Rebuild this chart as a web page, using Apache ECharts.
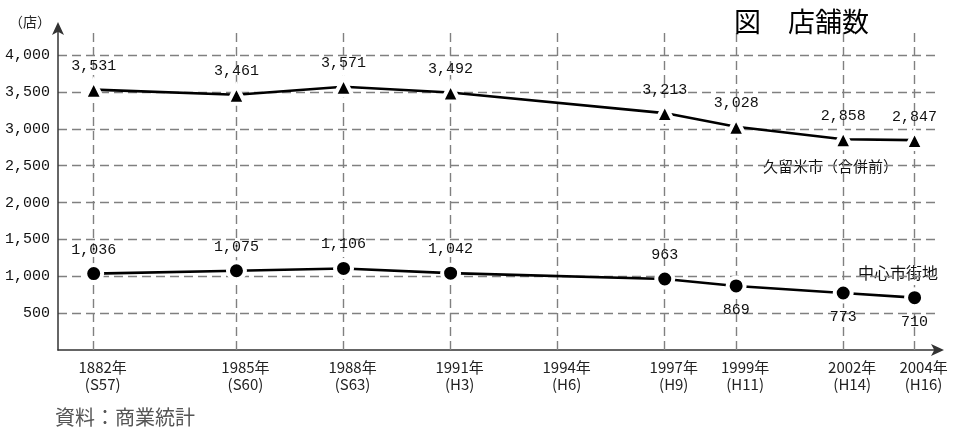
<!DOCTYPE html>
<html>
<head>
<meta charset="utf-8">
<script src="https://cdn.jsdelivr.net/npm/echarts@6/dist/echarts.min.js"></script>
<style>
  html, body { margin: 0; padding: 0; background: #fff; }
  #chart { width: 957px; height: 430px; }
</style>
</head>
<body>
<div id="chart"></div>
<script>
// Survey years on the time scale (the axis leaves an extra year before the first survey)
const years = [1981, 1985, 1988, 1991, 1994, 1997, 1999, 2002, 2004];
const yearLabels = ['1882年', '1985年', '1988年', '1991年', '1994年', '1997年', '1999年', '2002年', '2004年'];
const eraLabels = ['(S57)', '(S60)', '(S63)', '(H3)', '(H6)', '(H9)', '(H11)', '(H14)', '(H16)'];

// Number of shops
const kurumeShops = [3531, 3461, 3571, 3492, null, 3213, 3028, 2858, 2847];
const centralShops = [1036, 1075, 1106, 1042, null, 963, 869, 773, 710];

// Which way each value label sits for the central-district line
const centralLabelPos = ['top', 'top', 'top', 'top', 'top', 'top', 'bottom', 'bottom', 'bottom'];

const yTicks = { min: 0, max: 4340, interval: 500 };

const numFont = '"Liberation Mono", "DejaVu Sans Mono", monospace';
const jpFont = '"Noto Sans CJK JP", "Noto Sans", sans-serif';
const gridDash = { color: '#808080', width: 1.4, type: [9, 5] };

const fmt = v => String(v).replace(/\B(?=(\d{3})+(?!\d))/g, ',');

const chart = echarts.init(document.getElementById('chart'));

const numLabel = {
  show: true,
  fontFamily: numFont,
  fontSize: 15,
  color: '#111',
  formatter: p => fmt(p.value[1])
};

chart.setOption({
  animation: false,
  backgroundColor: '#fff',
  title: [
    { text: '図　店舗数', left: 729, top: 3,
      textStyle: { fontFamily: jpFont, fontSize: 27, fontWeight: 'normal', color: '#000' } },
    { text: '（店）', left: 4, top: 10,
      textStyle: { fontFamily: jpFont, fontSize: 14, fontWeight: 'normal', color: '#222' } },
    { text: '資料：商業統計', left: 50, top: 402,
      textStyle: { fontFamily: jpFont, fontSize: 20, fontWeight: 'normal', color: '#555' } }
  ],
  graphic: [
    { type: 'text', left: 763, top: 159,
      style: { text: '久留米市（合併前）', font: '15px ' + jpFont, fill: '#111' } },
    { type: 'text', left: 858, top: 265,
      style: { text: '中心市街地', font: '16px ' + jpFont, fill: '#111' } }
  ],
  grid: { left: 58, right: 21, top: 30, bottom: 80 },
  xAxis: {
    type: 'value',
    min: 1980,
    max: 2004.6,
    axisLine: { show: true, lineStyle: { color: '#333', width: 1.5 },
      symbol: ['none', 'arrow'], symbolSize: [9, 13], symbolOffset: [0, 8] },
    axisTick: { show: false },
    splitLine: { show: false },
    axisLabel: {
      customValues: years,
      margin: 9,
      padding: [0, 0, 0, 18],
      lineHeight: 17,
      fontFamily: jpFont,
      fontSize: 15,
      color: '#222',
      formatter: v => {
        const i = years.indexOf(v);
        return i < 0 ? '' : yearLabels[i] + '\n' + eraLabels[i];
      }
    }
  },
  yAxis: {
    type: 'value',
    min: yTicks.min,
    max: yTicks.max,
    interval: yTicks.interval,
    axisLine: { show: true, lineStyle: { color: '#333', width: 1.5 },
      symbol: ['none', 'arrow'], symbolSize: [9, 13], symbolOffset: [0, 8] },
    axisTick: { show: false },
    splitLine: { show: true, showMinLine: false, showMaxLine: false, lineStyle: gridDash },
    axisLabel: {
      margin: 8,
      showMaxLabel: false,
      fontFamily: numFont,
      fontSize: 15,
      color: '#111',
      formatter: v => (v === 0 ? '' : fmt(v))
    }
  },
  series: [
    {
      // vertical dashed guides at each survey year, kept beneath the data lines
      type: 'line',
      data: [],
      silent: true,
      z: 1,
      markLine: {
        z: 1,
        silent: true,
        symbol: 'none',
        label: { show: false },
        lineStyle: gridDash,
        data: years.map(y => ({ xAxis: y }))
      }
    },
    {
      name: '久留米市（合併前）',
      type: 'line',
      data: years.map((y, i) => [y, kurumeShops[i]]),
      connectNulls: true,
      symbol: 'triangle',
      symbolSize: 18,
      lineStyle: { color: '#000', width: 2.6 },
      itemStyle: { color: '#000', borderColor: '#fff', borderWidth: 4 },
      label: Object.assign({}, numLabel, { position: 'top', distance: 5 }),
      z: 3
    },
    {
      name: '中心市街地',
      type: 'line',
      data: years.map((y, i) => ({
        value: [y, centralShops[i]],
        label: { position: centralLabelPos[i] }
      })),
      connectNulls: true,
      symbol: 'circle',
      symbolSize: 17,
      lineStyle: { color: '#000', width: 2.6 },
      itemStyle: { color: '#000', borderColor: '#fff', borderWidth: 4 },
      label: Object.assign({}, numLabel, { distance: 6 }),
      z: 3
    }
  ]
});
</script>
</body>
</html>
